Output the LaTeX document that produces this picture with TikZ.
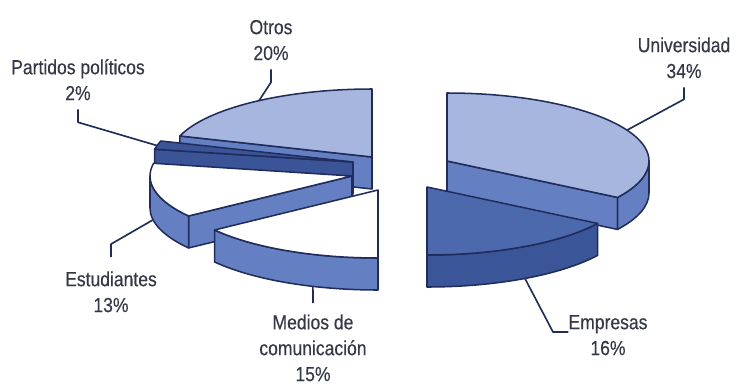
\documentclass[tikz,border=0pt]{standalone}
\usepackage{fontspec}
\setmainfont{Liberation Sans}[FakeStretch=0.86, FakeBold=0.3]
\usetikzlibrary{calc, positioning}

\definecolor{pielight}{HTML}{A6B6DF}
\definecolor{piemid}{HTML}{6480C2}
\definecolor{piedark}{HTML}{3B5498}
\definecolor{emptop}{HTML}{4D69AE}
\definecolor{empside}{HTML}{3B5599}
\definecolor{pieline}{HTML}{1F2C5C}
\definecolor{labeltext}{HTML}{343847}

% one slice: top face, cut face, outer wall (rx 202, ry 68, depth 32)
\newcommand{\slicetop}[4]{\path[face, fill=#4] (#1) -- ++(#2:202 and 68) arc[start angle=#2, end angle=#3, x radius=202, y radius=68] -- cycle;}
\newcommand{\slicecut}[3]{\path[face, fill=#3] (#1) -- ++(#2:202 and 68) -- ++(0,-32) -- ++(#2+180:202 and 68) -- cycle;}
\newcommand{\slicewall}[4]{\path[face, fill=#4] (#1) ++(#2:202 and 68) arc[start angle=#2, end angle=#3, x radius=202, y radius=68] -- ++(0,-32) arc[start angle=#3, end angle=#2, x radius=202, y radius=68] -- cycle;}

\begin{document}
\begin{tikzpicture}[x=0.03cm, y=0.03cm,
    face/.style={draw=pieline, line width=1.3pt, line join=round},
    lead/.style={draw=pieline, line width=1.4pt, line join=round},
    lbl/.style={align=center, inner sep=0pt, text=labeltext, font=\fontsize{17.4pt}{22.1pt}\selectfont}]
    \useasboundingbox (0,0) rectangle (735,-385);

    % slice centres
    \coordinate (otrosC) at (372,-157);
    \coordinate (partC) at (353,-162);
    \coordinate (estC) at (352,-176);
    \coordinate (medC) at (378,-190);
    \coordinate (uniC) at (447,-161);
    \coordinate (empC) at (427,-187);

    % left group, back to front
    \slicecut{otrosC}{-198}{piemid}
    \slicetop{otrosC}{-198}{-270}{pielight}
    \slicecut{partC}{-190.8}{piedark}
    \slicetop{partC}{-190.8}{-198}{piedark}
    \slicecut{estC}{-144}{piemid}
    \slicewall{estC}{-144}{-180}{piemid}
    \slicetop{estC}{-144}{-190.8}{white}
    \slicewall{medC}{-90}{-144}{piemid}
    \slicetop{medC}{-90}{-144}{white}

    % right group
    \slicecut{uniC}{-32.4}{piemid}
    \slicewall{uniC}{0}{-32.4}{piemid}
    \slicetop{uniC}{90}{-32.4}{pielight}
    \slicewall{empC}{-32.4}{-90}{empside}
    \slicetop{empC}{-32.4}{-90}{emptop}

    % points where the leaders touch
    \coordinate (otrosPt) at ($(otrosC)+(124:202 and 68)$);
    \coordinate (partPt) at ($(partC)+(166:202 and 68)$);
    \coordinate (estPt) at ($(estC)+(-170:202 and 68)+(0,-32)$);
    \coordinate (medPt) at ($(medC)+(-108.8:202 and 68)+(0,-32)$);
    \coordinate (uniPt) at ($(uniC)+(27:202 and 68)$);
    \coordinate (empPt) at ($(empC)+(-61:202 and 68)+(0,-32)$);
    \coordinate (empBend) at (553,-332);

    % labels
    \node [lbl, anchor=south] (otros) at (271,-60.5) {Otros\\20\%};
    \node [lbl, anchor=south] (part) at (78,-100.5) {Partidos políticos\\2\%};
    \node [lbl, anchor=south] (uni) at (684,-78.5) {Universidad\\34\%};
    \node [lbl, anchor=south] (est) at (111,-312.5) {Estudiantes\\13\%};
    \node [lbl, anchor=south] (med) at (313,-381.5) {Medios de\\comunicación\\15\%};
    \node [lbl, anchor=south] (emp) at (608,-355.5) {Empresas\\16\%};

    % leaders
    \draw [lead] ([yshift=-7.5pt]otros.south) -- ++(0,-13) -- (otrosPt);
    \draw [lead] ([yshift=-7.5pt]part.south) -- ++(0,-13) -- (partPt);
    \draw [lead] ([yshift=-7.5pt]uni.south) -- ++(0,-12) -- (uniPt);
    \draw [lead] ([yshift=12pt]est.north) -- ++(0,13) -- (estPt);
    \draw [lead] (medPt) -- ([yshift=9.5pt]med.north);
    \draw [lead] (empPt) -- (empBend) -- (empBend -| emp.west);
\end{tikzpicture}
\end{document}
